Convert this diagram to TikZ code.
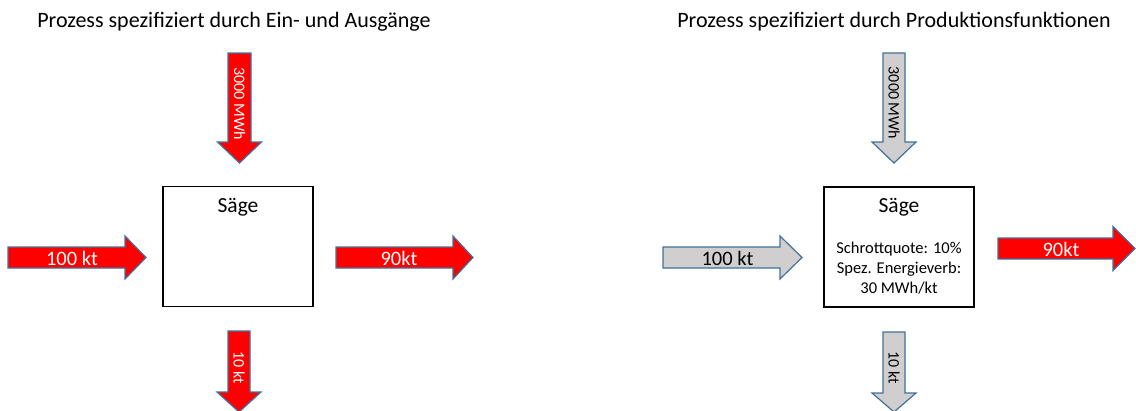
\documentclass[tikz,border=0pt]{standalone}
\usepackage{fontspec}
\setmainfont{Carlito}
\definecolor{flowred}{RGB}{255,0,0}
\definecolor{flowgray}{RGB}{208,206,206}
\definecolor{flowedge}{RGB}{65,113,156}

% block arrow pointing right: style, x tail, x neck, x tip, y middle, half shaft, half head
\newcommand{\flowright}[7]{%
  \draw[#1] (#2,#5-#6) -- (#3,#5-#6) -- (#3,#5-#7) -- (#4,#5)
    -- (#3,#5+#7) -- (#3,#5+#6) -- (#2,#5+#6) -- cycle;}
% block arrow pointing down: style, y tail, y neck, y tip, x middle, half shaft, half head
\newcommand{\flowdown}[7]{%
  \draw[#1] (#5-#6,#2) -- (#5-#6,#3) -- (#5-#7,#3) -- (#5,#4)
    -- (#5+#7,#3) -- (#5+#6,#3) -- (#5+#6,#2) -- cycle;}

\begin{document}
\begin{tikzpicture}[x=1pt,y=-1pt,
  redflow/.style={fill=flowred,draw=flowedge,line width=1.2pt,line join=miter},
  grayflow/.style={fill=flowgray,draw=flowedge,line width=1.2pt,line join=miter},
  procbox/.style={draw=black,line width=1.6pt,fill=white,minimum width=150pt,
    minimum height=120pt,inner sep=0pt},
  heading/.style={inner sep=0pt,font=\fontsize{22}{26}\selectfont},
  boxtitle/.style={inner sep=0pt,font=\fontsize{21.5}{25}\selectfont},
  boxtext/.style={inner sep=0pt,align=center,font=\fontsize{16.5}{20}\selectfont},
  whitelabel/.style={inner sep=0pt,text=white,font=\fontsize{20.5}{24}\selectfont},
  blacklabel/.style={inner sep=0pt,text=black,font=\fontsize{20.5}{24}\selectfont},
  whitevlabel/.style={inner sep=0pt,text=white,rotate=-90,font=\fontsize{16}{19}\selectfont},
  blackvlabel/.style={inner sep=0pt,text=black,rotate=-90,font=\fontsize{16}{19}\selectfont}]
\useasboundingbox (0,0) rectangle (1136,410);

% ---------- left process: given by inputs and outputs ----------
\node[heading] (headA) at (234,22) {Prozess spezifiziert durch Ein- und Ausgänge};
\node[procbox] (sawA) at (238,246.5) {};
\node[boxtitle] (sawAname) at (238,207) {Säge};

\flowdown{redflow}{53}{142}{163}{239.5}{11.5}{22}
\node[whitevlabel] (energyA) at (239.5,103.5) {3000 MWh};

\flowright{redflow}{8}{125}{146}{257.5}{10.5}{21.5}
\node[whitelabel] (inA) at (72,258) {100 kt};

\flowright{redflow}{336}{453}{473}{257.5}{10.5}{21.5}
\node[whitelabel] (outA) at (399,258) {90kt};

\flowdown{redflow}{331}{392}{412}{239}{11}{22}
\node[whitevlabel] (scrapA) at (239,367.5) {10 kt};

% ---------- right process: given by production functions ----------
\node[heading] (headB) at (894,22) {Prozess spezifiziert durch Produktionsfunktionen};
\node[procbox] (sawB) at (899,247) {};
\node[boxtitle] (sawBname) at (899,207) {Säge};
\node[boxtext] (sawBrules) at (899,268) {Schrottquote: 10\%\\Spez. Energieverb:\\30 MWh/kt};

\flowdown{grayflow}{53}{142}{163}{894}{11}{22}
\node[blackvlabel] (energyB) at (894,103) {3000 MWh};

\flowright{grayflow}{663}{780}{802}{257.5}{10.5}{21.5}
\node[blacklabel] (inB) at (727.5,258) {100 kt};

\flowright{redflow}{998}{1113}{1135}{248.5}{10.5}{22}
\node[whitelabel] (outB) at (1061,249) {90kt};

\flowdown{grayflow}{332}{393}{412}{894}{11}{22}
\node[blackvlabel] (scrapB) at (894,367.5) {10 kt};
\end{tikzpicture}
\end{document}
